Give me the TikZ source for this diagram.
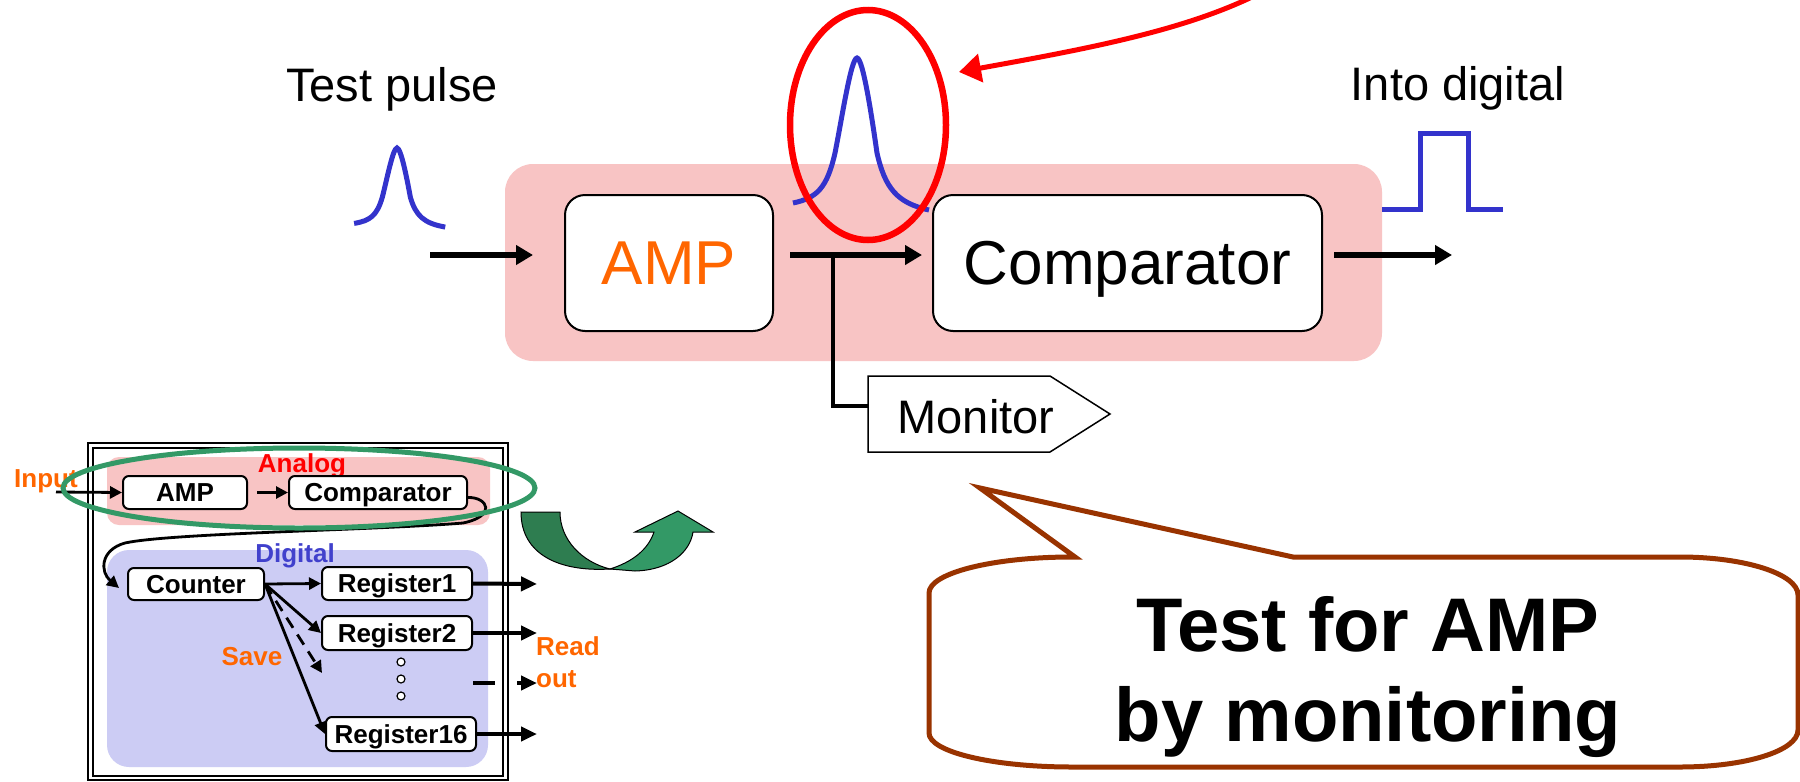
\documentclass[tikz,border=0pt]{standalone}
\usepackage{fontspec}
\setmainfont{Liberation Sans}
\usetikzlibrary{arrows.meta,calc}

\definecolor{pulseblue}{RGB}{51,51,204}
\definecolor{ampor}{RGB}{255,102,0}
\definecolor{hatchpink}{RGB}{248,196,196}
\definecolor{hatchblue}{RGB}{204,204,244}
\definecolor{loopgreen}{RGB}{51,153,102}
\definecolor{darkgreen}{RGB}{46,125,80}
\definecolor{bubblebrown}{RGB}{153,51,0}
\definecolor{digiblue}{RGB}{64,64,204}

\begin{document}
\begin{tikzpicture}[x=1pt,y=-1pt,
  bigbox/.style={draw, line width=2pt, rounded corners=20pt, fill=white,
    minimum height=136pt, inner sep=0pt, text depth=0pt,
    font=\fontsize{62}{62}\selectfont},
  biglabel/.style={anchor=base, inner sep=0pt, font=\fontsize{47}{50}\selectfont},
  mainarrow/.style={line width=6pt, -{Triangle[length=17pt,width=19pt]}},
  pulse/.style={pulseblue, line width=5pt},
  sbox/.style={draw, line width=2pt, rounded corners=6pt, fill=white,
    inner sep=0pt, minimum height=33pt, text depth=0pt,
    font=\bfseries\fontsize{26}{26}\selectfont},
  smalllbl/.style={anchor=base, inner sep=0pt, font=\bfseries\fontsize{26}{26}\selectfont},
  sarrow/.style={line width=2.8pt, -{Triangle[length=12pt,width=12pt]}},
  oarrow/.style={line width=4pt, -{Triangle[length=16pt,width=14pt]}},
  bubbletext/.style={anchor=base, inner sep=0pt, font=\bfseries\fontsize{76}{90}\selectfont}
]
\useasboundingbox (0,0) rectangle (1800,782);
\fill[white] (0,0) rectangle (1800,782);

% ---------- analog front end ----------
\fill[hatchpink, rounded corners=28pt] (505,164) rectangle (1382,361);

\node[bigbox, minimum width=208pt, text=ampor] (amp) at (669,263) {AMP};
\node[bigbox, minimum width=389pt] (comp) at (1127.5,263) {Comparator};

\node[biglabel] (tplabel) at (392,101) {Test pulse};
\node[biglabel] (idlabel) at (1458,100) {Into digital};

% input pulse
\draw[pulse, shift={(397,148)}, xscale=0.67, yscale=0.52]
  (-64,145) .. controls (-40,140) and (-30,130) .. (-22,95)
  .. controls (-15,60) and (-6,0) .. (0,0)
  .. controls (6,0) and (15,60) .. (20,95)
  .. controls (28,130) and (40,145) .. (72,152);

% amplified pulse
\draw[pulse, shift={(857,58)}]
  (-64,145) .. controls (-40,140) and (-30,130) .. (-22,95)
  .. controls (-15,60) and (-6,0) .. (0,0)
  .. controls (6,0) and (15,60) .. (20,95)
  .. controls (28,130) and (40,145) .. (72,152);

% digital output pulse
\draw[pulse, line join=miter] (1382,209) -- (1420,209) -- (1420,133)
  -- (1468,133) -- (1468,209) -- (1503,209);

% signal path
\coordinate (tpin) at (430,255);
\coordinate (tap) at (833,255);
\coordinate (outend) at (1452,255);
\draw[mainarrow, shorten >=31pt] (tpin) -- (tpin -| amp.west);
\draw[mainarrow, shorten <=16pt, shorten >=10pt] (amp.east |- tpin) -- (comp.west |- tpin);
\draw[mainarrow, shorten <=11pt] (comp.east |- outend) -- (outend);

% monitor output
\draw[line width=1.5pt, fill=white, line join=miter]
  (868,376) -- (1050,376) -- (1110,414) -- (1050,452) -- (868,452) -- cycle;
\node[biglabel] (mon) at (976,433) {Monitor};
\coordinate (monin) at (868,406);
\draw[line width=4.5pt] (tap) |- (monin);

% highlight of the amplified pulse
\draw[red, line width=6.5pt] (868,125) ellipse [x radius=78, y radius=115];
\coordinate (redstart) at (1254,-4);
\coordinate (redtip) at (959,72);
\draw[red, line width=5pt, -{Triangle[length=22pt,width=28pt]}]
  (redstart) .. controls (1180,32) and (1080,50) .. (redtip);

% ---------- chip overview ----------
\draw[line width=2pt] (88,443) rectangle (508,780);
\draw[line width=1.5pt] (93,448) rectangle (503,776);
\fill[hatchpink, rounded corners=12pt] (107,457) rectangle (490,525);
\fill[hatchblue, rounded corners=22pt] (107,550) rectangle (488,767);

\node[smalllbl, text=red] (analog) at (302,472) {Analog};
\node[smalllbl, text=digiblue] (digital) at (295,562) {Digital};
\node[smalllbl, text=ampor] (input) at (46,487) {Input};
\node[smalllbl, text=ampor] (save) at (252,665) {Save};
\node[smalllbl, text=ampor, anchor=base west] (read) at (536,655) {Read};
\node[smalllbl, text=ampor, anchor=base west] (out) at (536,687) {out};

\node[sbox, minimum width=124pt] (samp) at (185,492.5) {AMP};
\node[sbox, minimum width=178pt] (scomp) at (378,492.5) {Comparator};
\node[sbox, minimum width=136pt, minimum height=32pt] (scount) at (196,584) {Counter};
\node[sbox, minimum width=150pt] (sreg1) at (397,583.5) {Register1};
\node[sbox, minimum width=150pt, minimum height=34pt] (sreg2) at (397,633) {Register2};
\node[sbox, minimum width=150pt, minimum height=34pt] (sreg16) at (401,734) {Register16};

\foreach \yy/\nm in {662/dotA,679/dotB,696/dotC}
  \node[circle, draw, line width=1.2pt, fill=white, inner sep=0pt, minimum size=8pt] (\nm) at (401,\yy) {};

\coordinate (inp) at (56,492);
\draw[sarrow] (inp) -- (samp.west);
\draw[sarrow, shorten <=9pt] (samp.east) -- (scomp.west);
\draw[sarrow] ($(scomp.east)+(0,5)$) .. controls (488,497) and (497,516) .. (463,523)
  .. controls (380,530) and (170,533) .. (125,543)
  .. controls (100,550) and (100,572) .. ($(scount.west)+(-8,4)$);

\coordinate (skip) at (322,673);
\draw[sarrow] (scount.east) -- (sreg1.west);
\draw[sarrow] (scount.east) -- (sreg2.west);
\draw[sarrow, dash pattern=on 12pt off 8pt] (scount.east) -- (skip);
\draw[sarrow] (scount.east) -- (sreg16.west);

\coordinate (o1) at (537,584);
\coordinate (o2) at (537,633);
\coordinate (o16) at (537,734);
\coordinate (dotsin) at (473,683);
\coordinate (dotsout) at (537,683);
\draw[oarrow] (sreg1.east) -- (o1);
\draw[oarrow] (sreg2.east) -- (o2);
\draw[oarrow] (sreg16.east) -- (o16);
\draw[oarrow, dash pattern=on 22pt off 22pt] (dotsin) -- (dotsout);

\draw[loopgreen, line width=5pt] (299,488) ellipse [x radius=236, y radius=40];

% u-turn arrow
\draw[fill=loopgreen, line width=1pt, line join=miter]
  (610,569) .. controls (632,562) and (648,550) .. (654,532)
  -- (635,532) -- (678,511) -- (713,532) -- (693,532)
  .. controls (690,552) and (670,570) .. (635,571) -- cycle;
\draw[fill=darkgreen, line width=1pt]
  (521,512) -- (560,512) .. controls (560,540) and (582,562) .. (610,569)
  .. controls (560,572) and (521,555) .. (521,512) -- cycle;

% ---------- callout ----------
\draw[bubblebrown, line width=5pt, fill=white, line join=miter]
  (1075,557) -- (980,488) -- (1293,557) -- (1680,557)
  .. controls (1745,557) and (1798,574) .. (1798,595)
  -- (1798,730)
  .. controls (1798,751) and (1745,767) .. (1680,767)
  -- (1072,767)
  .. controls (993,767) and (929,752) .. (929,733)
  -- (929,593)
  .. controls (929,573) and (993,557) .. (1072,557) -- cycle;
\node[bubbletext] (bubbleA) at (1368,651) {Test for AMP};
\node[bubbletext] (bubbleB) at (1368,741) {by monitoring};
\end{tikzpicture}
\end{document}
